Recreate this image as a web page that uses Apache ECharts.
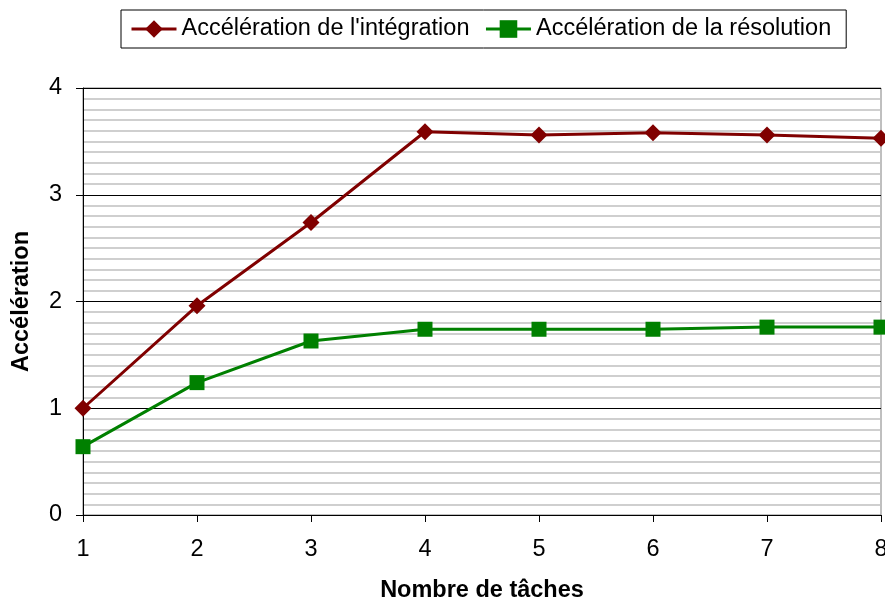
<!DOCTYPE html>
<html><head><meta charset="utf-8">
<script src="https://cdn.jsdelivr.net/npm/echarts@6/dist/echarts.min.js"></script>
<style>html,body{margin:0;padding:0;background:#fff}#c{width:885px;height:601px}</style>
</head><body><div id="c"></div>
<script>
const tasks = [1, 2, 3, 4, 5, 6, 7, 8];
const integration = [1.00, 1.96, 2.74, 3.59, 3.56, 3.58, 3.56, 3.53];
const resolution = [0.64, 1.24, 1.63, 1.74, 1.74, 1.74, 1.76, 1.76];
const seriesNames = ["Accélération de l'intégration", "Accélération de la résolution"];

const chart = echarts.init(document.getElementById('c'));
const font = 'Liberation Sans, Arial, sans-serif';
const fs = 23.5;
chart.setOption({
  animation: false,
  textStyle: { fontFamily: font },
  legend: {
    top: 10, left: 121,
    padding: [7, 15, 7, 9],
    borderColor: '#000', borderWidth: 1,
    itemWidth: 45, itemHeight: 22, itemGap: 15,
    lineStyle: { width: 3 },
    textStyle: { fontSize: fs, color: '#000', fontFamily: font },
    data: seriesNames
  },
  grid: { left: 83, right: 4, top: 88, bottom: 86, containLabel: false, outerBoundsMode: 'none',
          show: true, borderColor: '#808080', borderWidth: 1, backgroundColor: '#fff' },
  xAxis: {
    type: 'value', min: 1, max: 8, interval: 1,
    name: 'Nombre de tâches', nameLocation: 'middle', nameGap: 64,
    nameTextStyle: { fontSize: fs, fontWeight: 'bold', color: '#000', fontFamily: font },
    axisLine: { lineStyle: { color: '#000', width: 1 } },
    axisTick: { show: true, length: 7, lineStyle: { color: '#000' } },
    axisLabel: { fontSize: fs, color: '#000', margin: 23, fontFamily: font },
    splitLine: { show: false }
  },
  yAxis: {
    type: 'value', min: 0, max: 4, interval: 1,
    name: 'Accélération', nameLocation: 'middle', nameGap: 49,
    nameTextStyle: { fontSize: fs, fontWeight: 'bold', color: '#000', fontFamily: font },
    axisLine: { show: true, lineStyle: { color: '#000', width: 1 } },
    axisTick: { show: true, length: 7, lineStyle: { color: '#000' } },
    axisLabel: { fontSize: fs, color: '#000', margin: 21, fontFamily: font },
    splitLine: { show: true, lineStyle: { color: '#000', width: 1 } },
    minorTick: { show: false, splitNumber: 10 },
    minorSplitLine: { show: true, lineStyle: { color: '#c0c0c0', width: 1.5 } }
  },
  series: [
    {
      name: seriesNames[0], type: 'line',
      data: tasks.map((t, i) => [t, integration[i]]),
      symbol: 'diamond', symbolSize: 17,
      lineStyle: { color: '#800000', width: 3 },
      itemStyle: { color: '#800000' },
      z: 3
    },
    {
      name: seriesNames[1], type: 'line',
      data: tasks.map((t, i) => [t, resolution[i]]),
      symbol: 'rect', symbolSize: 15,
      lineStyle: { color: '#008000', width: 3 },
      itemStyle: { color: '#008000' },
      z: 3
    }
  ]
});
</script></body></html>
